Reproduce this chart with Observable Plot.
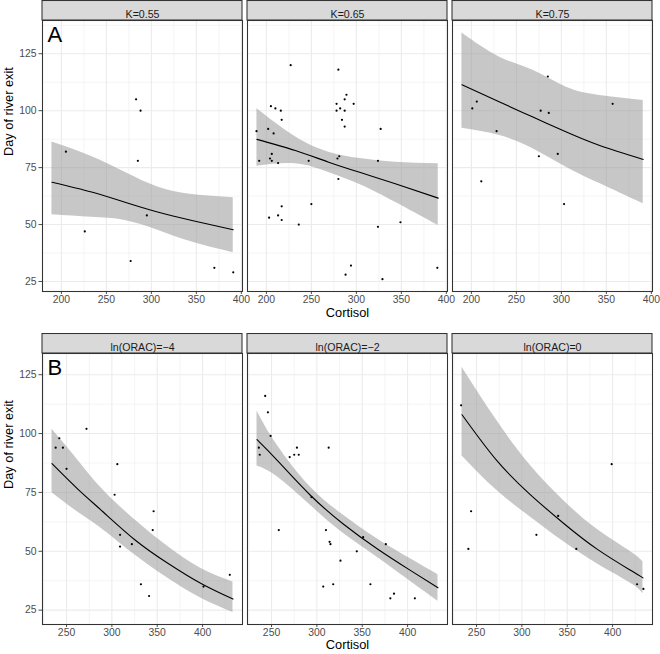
<!DOCTYPE html>
<html>
<head>
<meta charset="utf-8">
<script src="https://cdn.jsdelivr.net/npm/d3@7"></script>
<script src="https://cdn.jsdelivr.net/npm/@observablehq/plot@0.6"></script>
<style>
  html, body { margin: 0; padding: 0; background: white; }
  #chart svg { display: block; }
</style>
</head>
<body>
<div id="chart"></div>
<script>
// ---------- Panel labels ----------
const kLabels = ["K=0.55", "K=0.65", "K=0.75"];
const oracLabels = ["ln(ORAC)=−4", "ln(ORAC)=−2", "ln(ORAC)=0"];

// ---------- Axis ticks ----------
const yTicks = [25, 50, 75, 100, 125];
const yMinorTicks = [37.5, 62.5, 87.5, 112.5, 137.5];
const xTicksA = [200, 250, 300, 350, 400];
const xMinorA = [225, 275, 325, 375];
const xTicksB = [250, 300, 350, 400];
const xMinorB = [225, 275, 325, 375, 425];

// ---------- Panel A observations (Cortisol, Day of river exit) ----------
const k055Cortisol = [205, 226, 283, 288, 285, 295, 277, 370, 391];
const k055Day      = [82, 47, 105, 100, 78, 54, 34, 31, 29];

const k065Cortisol = [189, 192, 202, 205, 210, 216, 217, 208, 206, 204,
                      206, 213, 227, 247, 250, 217, 203, 213, 217, 236,
                      280, 278, 282, 287, 289, 278, 287, 297, 284, 287,
                      279, 281, 280, 327, 324, 324, 349, 294, 288, 329, 390];
const k065Day      = [91, 78, 92, 102, 101, 100, 96, 90, 81, 79,
                      78, 77, 120, 78, 59, 58, 53, 54, 52, 50,
                      118, 103, 101, 105, 107, 100, 100, 103, 96, 93,
                      79, 80, 70, 92, 78, 49, 51, 32, 28, 26, 31];

const k075Cortisol = [201, 206, 228, 211, 285, 277, 286, 275, 296, 303, 357];
const k075Day      = [101, 104, 91, 69, 115, 100, 99, 80, 81, 59, 103];

// ---------- Panel B observations ----------
const orac4Cortisol = [238, 242, 246, 250, 272, 306, 303, 346, 345, 309, 309, 322, 332, 341, 401, 430];
const orac4Day      = [94, 98, 94, 85, 102, 87, 74, 67, 59, 57, 52, 53, 36, 31, 35, 40];

const orac2Cortisol = [243, 246, 249, 236, 237, 270, 275, 278, 280, 313,
                       294, 258, 310, 314, 315, 351, 344, 326, 376, 307,
                       318, 359, 381, 385, 408];
const orac2Day      = [116, 109, 99, 94, 91, 90, 91, 94, 91, 94,
                       73, 59, 59, 54, 53, 56, 50, 46, 53, 35,
                       36, 36, 30, 32, 30];

const orac0Cortisol = [233, 244, 241, 316, 340, 360, 399, 427, 434];
const orac0Day      = [112, 67, 51, 57, 65, 51, 87, 36, 34];

// ---------- Fitted curves with confidence bands ----------
const fitA1Cortisol = [189.5, 233.5, 270.7, 307.9, 345.1, 391];
const fitA1Day      = [68.6, 64.3, 59.8, 55.4, 51.8, 47.7];
const fitA1Lower    = [54.3, 53.2, 51.8, 47.4, 42.3, 37.6];
const fitA1Upper    = [86.2, 79.9, 73.0, 66.4, 63.2, 61.8];

const fitA2Cortisol = [189.5, 232.2, 269.2, 306.3, 343.3, 391];
const fitA2Day      = [87.4, 82.5, 77.4, 72.6, 67.9, 61.6];
const fitA2Lower    = [75.6, 76.7, 72.9, 67.2, 59.8, 49.6];
const fitA2Upper    = [100.8, 88.5, 81.8, 78.9, 77.4, 76.7];

const fitA3Cortisol = [189.5, 231.4, 268.4, 305.6, 342.6, 391];
const fitA3Day      = [111.4, 103.8, 97.2, 90.6, 84.7, 78.6];
const fitA3Lower    = [92.3, 89.1, 83.3, 75.2, 68.0, 59.1];
const fitA3Upper    = [134.1, 123.5, 117.7, 110.3, 106.7, 104.5];

const fitB1Cortisol = [234, 262.7, 289.8, 325.9, 362.1, 398.3, 433.5];
const fitB1Day      = [87.2, 76.3, 66.9, 54.7, 44.8, 36.3, 29.7];
const fitB1Lower    = [74.9, 66.6, 59.3, 48.3, 38.4, 30.0, 24.0];
const fitB1Upper    = [101.8, 88.6, 76.2, 63.2, 51.9, 42.7, 37.0];

const fitB2Cortisol = [234, 256.3, 292.8, 329.4, 366, 402.6, 433.5];
const fitB2Day      = [97.4, 88.6, 73.8, 61.5, 51.2, 42.0, 34.5];
const fitB2Lower    = [86.2, 81.6, 69.5, 57.5, 47.6, 37.4, 28.8];
const fitB2Upper    = [109.6, 95.0, 77.3, 65.3, 55.4, 46.9, 40.0];

const fitB3Cortisol = [234, 272.2, 309.2, 346.2, 383.3, 420.3, 433.5];
const fitB3Day      = [108, 88.6, 74.1, 61.8, 50.8, 41.8, 38.7];
const fitB3Lower    = [90.5, 75.9, 64.6, 54.0, 44.6, 36.3, 32.0];
const fitB3Upper    = [128.2, 105.6, 86.5, 71.5, 59.2, 49.7, 45.5];

// ---------- Build tables ----------
function pointsTable(label, xs, ys) {
  return xs.map((x, i) => ({k: label, cortisol: x, day: ys[i]}));
}
function fitTable(label, xs, fit, lo, hi) {
  return xs.map((x, i) => ({k: label, x, fit: fit[i], lo: lo[i], hi: hi[i]}));
}

const pointsA = [
  ...pointsTable(kLabels[0], k055Cortisol, k055Day),
  ...pointsTable(kLabels[1], k065Cortisol, k065Day),
  ...pointsTable(kLabels[2], k075Cortisol, k075Day)
];
const fitsA = [
  ...fitTable(kLabels[0], fitA1Cortisol, fitA1Day, fitA1Lower, fitA1Upper),
  ...fitTable(kLabels[1], fitA2Cortisol, fitA2Day, fitA2Lower, fitA2Upper),
  ...fitTable(kLabels[2], fitA3Cortisol, fitA3Day, fitA3Lower, fitA3Upper)
];
const pointsB = [
  ...pointsTable(oracLabels[0], orac4Cortisol, orac4Day),
  ...pointsTable(oracLabels[1], orac2Cortisol, orac2Day),
  ...pointsTable(oracLabels[2], orac0Cortisol, orac0Day)
];
const fitsB = [
  ...fitTable(oracLabels[0], fitB1Cortisol, fitB1Day, fitB1Lower, fitB1Upper),
  ...fitTable(oracLabels[1], fitB2Cortisol, fitB2Day, fitB2Lower, fitB2Upper),
  ...fitTable(oracLabels[2], fitB3Cortisol, fitB3Day, fitB3Lower, fitB3Upper)
];

const FONT = "'Liberation Sans', Arial, Helvetica, sans-serif";

function facetRow({labels, points, fits, xDomain, yDomain, xTicks, xMinor, letter, height, marginTop, marginBottom, titleOffset}) {
  const panelH = height - marginTop - marginBottom;
  const stripPx = 19.5;
  const yTop = yDomain[1];
  const stripTop = yTop + stripPx * (yDomain[1] - yDomain[0]) / panelH;
  const inY = (v) => v >= yDomain[0] && v <= yDomain[1];
  const inX = (v) => v >= xDomain[0] && v <= xDomain[1];
  const strips = labels.map((k) => ({k}));
  return Plot.plot({
    width: 660,
    height,
    marginLeft: 42,
    marginRight: 8,
    marginTop,
    marginBottom,
    style: {fontFamily: FONT, fontSize: "10.4px", color: "#4d4d4d", background: "white"},
    fx: {domain: labels, paddingInner: 0.0244, paddingOuter: 0, axis: null, label: null},
    x: {domain: xDomain, ticks: xTicks, tickSize: 3, tickPadding: 1.5, label: null},
    y: {domain: yDomain, ticks: yTicks, tickSize: 3.5, tickPadding: 2.5, label: null},
    marks: [
      Plot.ruleX(xMinor.filter(inX), {stroke: "#ebebeb", strokeWidth: 0.55}),
      Plot.ruleY(yMinorTicks.filter(inY), {stroke: "#ebebeb", strokeWidth: 0.55}),
      Plot.ruleX(xTicks, {stroke: "#ebebeb", strokeWidth: 1.07}),
      Plot.ruleY(yTicks, {stroke: "#ebebeb", strokeWidth: 1.07}),
      Plot.area(fits, {fx: "k", x1: "x", y1: "lo", y2: "hi", fill: "#999999", fillOpacity: 0.55, curve: "natural"}),
      Plot.line(fits, {fx: "k", x: "x", y: "fit", stroke: "#000", strokeWidth: 1.1, curve: "natural"}),
      Plot.dot(points, {fx: "k", x: "cortisol", y: "day", r: 1.1, fill: "#000"}),
      Plot.frame({stroke: "#333333", strokeWidth: 1.07}),
      Plot.rect(strips, {fx: "k", y1: () => yTop, y2: () => stripTop, fill: "#d9d9d9", stroke: "#333333", strokeWidth: 1.07}),
      Plot.text(strips, {fx: "k", text: "k", frameAnchor: "top", dy: -9.75, fill: "#1a1a1a", fontSize: 10.6}),
      Plot.text([{k: labels[0], t: letter}], {fx: "k", text: "t", frameAnchor: "top-left", textAnchor: "start", lineAnchor: "top", dx: 5, dy: 6, fontSize: 22, fill: "#000"}),
      Plot.text([{k: labels[0], t: "Day of river exit"}], {fx: "k", text: "t", frameAnchor: "left", rotate: -90, dx: -34, fontSize: 12.8, fill: "#000"}),
      Plot.text([{k: labels[1], t: "Cortisol"}], {fx: "k", text: "t", frameAnchor: "bottom", dy: titleOffset, fontSize: 12.8, fill: "#000"})
    ]
  });
}

const chart = document.getElementById("chart");
chart.append(facetRow({
  labels: kLabels, points: pointsA, fits: fitsA,
  xDomain: [179, 401.3], yDomain: [20.6, 139.6],
  xTicks: xTicksA, xMinor: xMinorA, letter: "A",
  height: 333, marginTop: 20, marginBottom: 42, titleOffset: 25.5
}));
chart.append(facetRow({
  labels: oracLabels, points: pointsB, fits: fitsB,
  xDomain: [223.5, 444], yDomain: [18.9, 134],
  xTicks: xTicksB, xMinor: xMinorB, letter: "B",
  height: 321, marginTop: 20, marginBottom: 30, titleOffset: 24.5
}));
</script>
</body>
</html>
